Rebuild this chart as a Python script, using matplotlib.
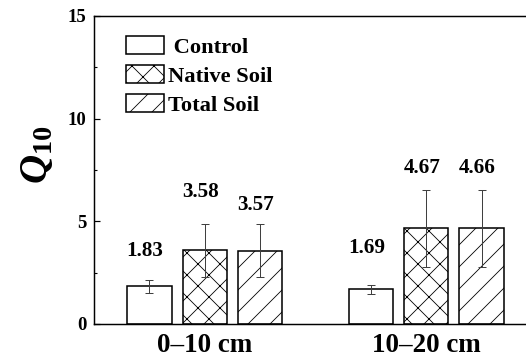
import matplotlib
matplotlib.use('Agg')
import matplotlib.pyplot as plt
from matplotlib.ticker import MultipleLocator
import numpy as np

depths = ['0\u201310 cm', '10\u201320 cm']
treatments = [' Control', 'Native Soil', 'Total Soil']
hatches = ['', 'x', '/']

q10_control = [1.83, 1.69]
q10_native = [3.58, 4.67]
q10_total = [3.57, 4.66]
err_control = [0.33, 0.22]
err_native = [1.28, 1.87]
err_total = [1.28, 1.87]

# heights of the value labels (as placed in the original figure)
label_control = [3.56, 3.70]
label_native = [6.43, 7.60]
label_total = [5.80, 7.60]

DPI = 66
plt.rcParams['font.family'] = 'Liberation Serif'
plt.rcParams['font.weight'] = 'bold'
plt.rcParams['mathtext.fontset'] = 'custom'
plt.rcParams['mathtext.it'] = 'Liberation Serif:italic:bold'
plt.rcParams['mathtext.bf'] = 'Liberation Serif:bold'
plt.rcParams['mathtext.rm'] = 'Liberation Serif:bold'
plt.rcParams['hatch.linewidth'] = 0.9


def makePlot(plotFile):
    fig = plt.figure(figsize=(526 / DPI, 360 / DPI), dpi=DPI)
    ax = fig.add_axes([94 / 526, 0.1, 443 / 526, 308 / 360])

    x = np.arange(len(depths))
    width = 0.2
    series = [(q10_control, err_control, label_control),
              (q10_native, err_native, label_native),
              (q10_total, err_total, label_total)]

    for i, (vals, errs, laby) in enumerate(series):
        pos = x + (i - 1) * 0.25
        ax.bar(pos, vals, width, color='white', edgecolor='black',
               linewidth=1.7, hatch=hatches[i], label=treatments[i], zorder=2)
        ax.errorbar(pos, vals, yerr=errs, fmt='none', ecolor='#404040',
                    elinewidth=1.1, capsize=4.5, capthick=1.1, zorder=3)
        for p, v, ly in zip(pos, vals, laby):
            ax.text(p - 0.02, ly, '%.2f' % v, ha='center', va='center',
                    fontsize=23, fontweight='bold')

    ax.set_xlim(-0.5, 1.5)
    ax.set_ylim(0, 15)
    ax.set_xticks(x)
    ax.set_xticklabels(depths, fontsize=29.5, fontweight='bold')
    ax.yaxis.set_major_locator(MultipleLocator(5))
    ax.yaxis.set_minor_locator(MultipleLocator(2.5))
    ax.tick_params(axis='x', length=0, pad=10)
    ax.tick_params(axis='y', which='major', direction='in', length=6,
                   width=1.3, labelsize=20.5, pad=8)
    ax.tick_params(axis='y', which='minor', direction='in', length=3.5,
                   width=1.2)
    for s in ['left', 'bottom', 'top']:
        ax.spines[s].set_linewidth(1.6)
    ax.spines['right'].set_visible(False)

    ax.set_ylabel(r'$Q_{\mathbf{10}}$', fontsize=44)
    ax.yaxis.set_label_coords(-0.085, 0.55)

    ax.legend(loc='upper left', bbox_to_anchor=(0.072, 0.935), frameon=False,
              fontsize=24.5, handlelength=1.69, handleheight=0.85,
              handletextpad=0.2, labelspacing=0.33, borderpad=0,
              borderaxespad=0)

    plt.savefig(plotFile, dpi=DPI)


def main():
    makePlot('out.png')


if __name__ == '__main__':
    main()
